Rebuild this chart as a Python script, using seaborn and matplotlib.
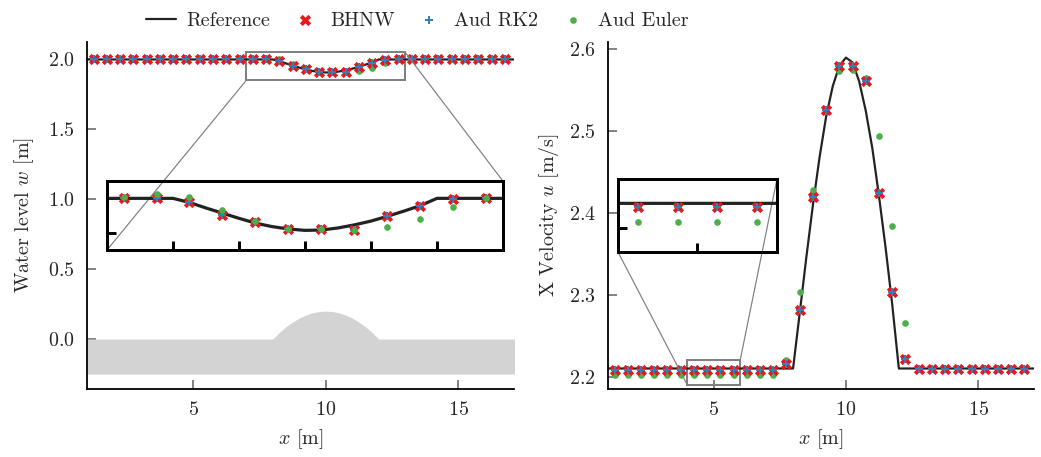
import matplotlib
matplotlib.use("Agg")
import matplotlib.pyplot as plt
import seaborn as sns
from mpl_toolkits.axes_grid1.inset_locator import mark_inset

# cell centres (dx = 0.5 m)
x_pts = [1.25, 1.75, 2.25, 2.75, 3.25, 3.75, 4.25, 4.75, 5.25, 5.75, 6.25, 6.75,
         7.25, 7.75, 8.25, 8.75, 9.25, 9.75, 10.25, 10.75, 11.25, 11.75, 12.25,
         12.75, 13.25, 13.75, 14.25, 14.75, 15.25, 15.75, 16.25, 16.75]

# water level w [m]
w_bhnw = [2.0] * 14 + [1.988, 1.953, 1.932, 1.910, 1.910, 1.907, 1.949, 1.978, 1.997] + [2.0] * 9
w_rk2 = [2.0] * 14 + [1.988, 1.953, 1.932, 1.910, 1.910, 1.907, 1.949, 1.978, 1.997] + [2.0] * 9
w_euler = [2.0] * 12 + [2.005, 2.014, 2.003, 1.966, 1.935, 1.912, 1.912, 1.908, 1.918,
                        1.939, 1.974] + [2.0] * 9

# x velocity u [m/s]
u_bhnw = [2.2085] * 13 + [2.2155, 2.2814, 2.419, 2.525, 2.579, 2.579, 2.561, 2.424,
                          2.303, 2.2216] + [2.2094] * 9
u_rk2 = [2.2085] * 13 + [2.2155, 2.2814, 2.419, 2.525, 2.579, 2.579, 2.561, 2.424,
                         2.303, 2.2216] + [2.2094] * 9
u_euler = [2.2024] * 13 + [2.2208, 2.303, 2.427, 2.524, 2.573, 2.574, 2.564, 2.494,
                           2.3835, 2.266] + [2.2094] * 9

# reference solution
x_ref = [1.0, 8.0, 8.25, 8.5, 8.75, 9.0, 9.25, 9.5, 9.75, 10.0, 10.25, 10.5, 10.75,
         11.0, 11.25, 11.5, 11.75, 12.0, 17.5]
w_ref = [2.0, 2.0, 1.988, 1.972, 1.957, 1.942, 1.928, 1.918, 1.911, 1.907, 1.908,
         1.914, 1.923, 1.934, 1.948, 1.963, 1.979, 2.0, 2.0]
u_ref = [2.21, 2.21, 2.277, 2.345, 2.409, 2.467, 2.517, 2.554, 2.579, 2.589, 2.583,
         2.560, 2.524, 2.478, 2.420, 2.357, 2.288, 2.21, 2.21]

# bathymetry
x_bed = [0.5, 8.0, 8.25, 8.5, 8.75, 9.0, 9.25, 9.5, 9.75, 10.0, 10.25, 10.5, 10.75,
         11.0, 11.25, 11.5, 11.75, 12.0, 17.5]
z_bed = [0.0, 0.0, 0.047, 0.088, 0.122, 0.15, 0.172, 0.188, 0.197, 0.2, 0.197, 0.188,
         0.172, 0.15, 0.122, 0.088, 0.047, 0.0, 0.0]
z_floor = -0.25

RED = "#e41a1c"
BLUE = "#377eb8"
GREEN = "#4daf4a"
REF = "#222222"

sns.set_style("ticks")
plt.rcParams["font.family"] = ["cmr10", "DejaVu Serif"]
plt.rcParams["mathtext.fontset"] = "cm"
plt.rcParams["axes.formatter.use_mathtext"] = True
plt.rcParams["axes.unicode_minus"] = False
plt.rcParams["font.size"] = 10


def draw(ax, yref, bh, rk, eu, inset=False):
    sns.lineplot(x=x_ref, y=yref, ax=ax, color=REF, lw=1.6 if inset else 1.1,
                 label="Reference", zorder=2, estimator=None)
    if inset:
        zr, zb, zg = 3, 4, 5
    else:
        zr, zb, zg = 4, 5, 3
    sns.scatterplot(x=x_pts, y=bh, ax=ax, marker="X", color=RED, s=32, linewidth=0,
                    label="BHNW", zorder=zr)
    sns.scatterplot(x=x_pts, y=rk, ax=ax, marker="P", color=BLUE, s=16, linewidth=0,
                    label="Aud RK2", zorder=zb)
    sns.scatterplot(x=x_pts, y=eu, ax=ax, marker="o", color=GREEN, s=11, linewidth=0,
                    label="Aud Euler", zorder=zg)
    if ax.get_legend() is not None:
        ax.get_legend().remove()


def style_main(ax):
    sns.despine(ax=ax)
    for s in ["left", "bottom"]:
        ax.spines[s].set_linewidth(0.9)
        ax.spines[s].set_color("black")
    ax.tick_params(direction="in", length=4.7, width=0.9, color="#777777",
                   labelsize=10, pad=6)


def style_inset(axins):
    for s in axins.spines.values():
        s.set_linewidth(1.5)
        s.set_color("black")
    axins.tick_params(direction="in", length=4.7, width=1.5, color="black",
                      labelleft=False, labelbottom=False)
    axins.set_xlabel("")
    axins.set_ylabel("")
    axins.patch.set_alpha(0)


fig = plt.figure(figsize=(1041 / 144, 457 / 144), dpi=144)
ax1 = fig.add_axes([0.0836, 0.1488, 0.4102, 0.7593])
ax2 = fig.add_axes([0.584, 0.1488, 0.409, 0.7593])

# left: water level
ax1.fill_between(x_bed, z_floor, z_bed, color="#d3d3d3", lw=0, zorder=1)
draw(ax1, w_ref, w_bhnw, w_rk2, w_euler)
ax1.set_xlim(1, 17.1)
ax1.set_ylim(-0.357, 2.125)
ax1.set_xticks([5, 10, 15])
ax1.set_yticks([0.0, 0.5, 1.0, 1.5, 2.0])
ax1.set_xlabel("$x$ [m]")
ax1.set_ylabel("Water level $w$ [m]", labelpad=6)
style_main(ax1)

ins1 = ax1.inset_axes([0.0468, 0.4006, 0.9272, 0.1984])
draw(ins1, w_ref, w_bhnw, w_rk2, w_euler, inset=True)
ins1.set_xlim(7, 13)
ins1.set_ylim(1.85, 2.05)
ins1.set_xticks([8, 9, 10, 11, 12])
ins1.set_yticks([1.9, 2.0])
style_inset(ins1)
pp, c1, c2 = mark_inset(ax1, ins1, loc1=1, loc2=3, fc="none", ec="0.5", lw=0.6)
pp.set_linewidth(1.0)

# right: x velocity
draw(ax2, u_ref, u_bhnw, u_rk2, u_euler)
ax2.set_xlim(1, 17.1)
ax2.set_ylim(2.185, 2.608)
ax2.set_xticks([5, 10, 15])
ax2.set_yticks([2.2, 2.3, 2.4, 2.5, 2.6])
ax2.set_xlabel("$x$ [m]")
ax2.set_ylabel("X Velocity $u$ [m/s]")
style_main(ax2)

ins2 = ax2.inset_axes([0.0235, 0.395, 0.3735, 0.21])
draw(ins2, u_ref, u_bhnw, u_rk2, u_euler, inset=True)
ins2.set_xlim(4, 6)
ins2.set_ylim(2.19, 2.22)
ins2.set_xticks([5])
ins2.set_yticks([2.2])
style_inset(ins2)
pp, c1, c2 = mark_inset(ax2, ins2, loc1=1, loc2=3, fc="none", ec="0.5", lw=0.6)
pp.set_linewidth(1.0)

handles, labels = ax1.get_legend_handles_labels()
fig.legend(handles, labels, loc="center", bbox_to_anchor=(0.401, 0.955), ncol=4,
           frameon=False, columnspacing=1.0, handlelength=1.5, handletextpad=0.5,
           fontsize=10)

fig.savefig("out.png", dpi=144)
